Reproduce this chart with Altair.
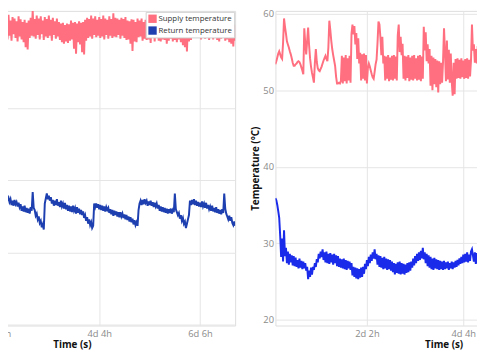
import altair as alt
import pandas as pd

SERIES = ["Supply temperature", "Return temperature"]
PINK = "#ff6f7f"
BLUE_L = "#1d3faf"
BLUE_R = "#1b2bea"

# ---- left panel: readings every half hour from 50 h ----
left_start, left_step = 50.0, 0.5
left_supply = [
    62.6, 59.7, 62.9, 60.2, 62.3, 59.5, 62.8, 60.0, 62.4, 59.6,
    63.0, 60.1, 62.2, 59.4, 62.7, 60.3, 62.5, 59.8, 62.1, 59.3,
    62.8, 60.0, 62.4, 59.6, 62.0, 59.2, 62.3, 58.5, 61.9, 58.2,
    62.2, 59.8, 62.6, 60.1, 63.6, 60.0, 62.4, 59.7, 62.9, 60.2,
    62.5, 59.6, 62.8, 60.3, 62.2, 59.5, 62.7, 60.0, 62.4, 59.8,
    62.9, 60.1, 62.3, 59.4, 62.6, 60.2, 62.1, 59.7, 62.5, 60.0,
    62.0, 59.5, 61.8, 59.2, 61.9, 59.0, 61.6, 59.3, 61.8, 59.1,
    61.7, 59.4, 62.2, 59.6, 61.9, 58.3, 62.0, 57.6, 61.8, 59.2,
    62.1, 58.9, 61.9, 57.8, 62.0, 57.5, 62.3, 59.4, 62.6, 59.8,
    62.4, 60.0, 62.9, 59.7, 62.5, 60.2, 62.8, 59.9, 62.3, 60.1,
    62.7, 59.8, 62.4, 60.0, 62.9, 59.6, 62.5, 60.2, 62.3, 59.7,
    62.8, 60.1, 62.4, 59.8, 63.2, 60.0, 62.6, 59.9, 62.5, 60.2,
    62.3, 59.7, 62.6, 60.1, 62.4, 59.8, 62.7, 59.5, 62.2, 59.6,
    62.1, 59.0, 62.4, 58.0, 62.3, 59.3, 62.0, 59.2, 62.5, 59.9,
    62.2, 60.0, 62.5, 59.4, 62.0, 59.7, 62.3, 59.5, 62.1, 59.6,
    62.4, 59.1, 61.9, 59.8, 62.2, 59.3, 62.5, 59.8, 62.0, 59.4,
    62.3, 59.3, 62.1, 59.6, 62.4, 59.5, 62.2, 59.0, 62.0, 59.4,
    62.4, 59.7, 62.1, 59.3, 62.0, 59.5, 62.3, 59.2, 62.2, 59.6,
    61.9, 59.2, 62.0, 58.8, 61.8, 58.5, 61.9, 57.9, 61.8, 59.3,
    62.3, 59.5, 62.5, 59.9, 62.2, 59.8, 62.7, 60.0, 62.4, 60.1,
    62.3, 59.6, 62.6, 60.0, 62.8, 59.7, 62.4, 60.0, 62.5, 59.5,
    62.6, 59.9, 62.2, 59.6, 62.6, 59.9, 62.3, 59.5, 62.2, 59.3,
    62.5, 59.7, 62.2, 59.8, 62.1, 59.4, 62.4, 59.6, 62.3, 59.2,
    62.0, 59.0, 61.8, 58.6, 61.6, 59.4,
]
left_return = [
    37.9, 37.3, 38.2, 37.5, 38.0, 37.2, 37.8, 37.4, 38.1, 37.3,
    37.6, 37.0, 37.4, 36.6, 37.2, 36.5, 37.3, 36.7, 37.0, 36.4,
    36.9, 36.3, 36.7, 35.8, 36.4, 35.7, 36.5, 35.6, 36.2, 35.5,
    36.1, 35.4, 36.3, 35.8, 38.4, 36.2, 35.9, 35.1, 35.4, 34.6,
    35.0, 34.1, 34.4, 33.5, 33.9, 33.2, 36.8, 37.5, 38.2, 37.4,
    37.9, 37.2, 37.7, 36.8, 37.3, 36.5, 37.2, 36.6, 37.4, 36.5,
    37.0, 36.3, 37.2, 36.4, 36.8, 36.1, 36.9, 36.0, 36.6, 35.8,
    36.5, 35.7, 36.4, 35.6, 36.5, 35.8, 36.2, 35.4, 36.3, 35.5,
    36.1, 35.3, 35.9, 35.2, 35.7, 34.8, 35.2, 34.4, 34.9, 34.0,
    34.6, 33.8, 34.2, 33.4, 33.7, 36.8, 36.3, 36.8, 36.2, 36.7,
    36.0, 36.6, 35.9, 36.5, 35.8, 36.4, 35.7, 36.3, 35.9, 36.2,
    35.5, 36.0, 35.3, 35.9, 35.1, 35.8, 35.2, 35.7, 35.0, 35.6,
    34.9, 35.6, 35.0, 35.4, 34.8, 35.3, 34.6, 35.2, 34.5, 35.0,
    34.3, 34.9, 34.2, 34.7, 33.9, 34.5, 33.8, 34.2, 33.7, 35.9,
    36.8, 37.2, 36.6, 37.3, 36.7, 37.4, 36.9, 37.2, 36.5, 37.1,
    36.6, 37.2, 36.5, 37.0, 36.3, 36.9, 36.4, 36.8, 36.1, 36.6,
    35.8, 36.4, 35.7, 36.3, 35.6, 36.2, 35.5, 36.1, 35.4, 36.0,
    35.5, 36.1, 35.4, 35.9, 35.6, 38.2, 36.0, 35.6, 35.2, 35.5,
    34.7, 35.2, 34.4, 34.8, 34.0, 34.3, 33.4, 34.0, 34.6, 35.2,
    37.2, 36.6, 37.3, 36.7, 37.4, 36.6, 37.2, 36.5, 37.0, 36.4,
    36.9, 36.3, 37.1, 36.4, 36.8, 36.2, 36.9, 36.1, 36.6, 36.0,
    36.4, 35.8, 36.5, 35.7, 36.2, 35.6, 36.3, 35.5, 36.0, 35.4,
    35.9, 35.3, 36.0, 35.5, 38.2, 36.1, 35.4, 35.0, 34.6, 35.1,
    34.4, 34.9, 34.1, 33.8, 34.3, 33.7,
]

# ---- right panel: readings every half hour from 2.5 h ----
right_start, right_step = 2.5, 0.5
right_supply = [
    53.4, 53.8, 54.3, 54.8, 55.1, 54.7, 54.3, 54.1, 56.2, 59.4,
    58.3, 57.4, 56.4, 56.0, 55.6, 55.1, 54.7, 54.2, 53.6, 53.2,
    53.2, 53.4, 53.5, 53.7, 53.8, 53.7, 53.4, 53.0, 52.6, 52.1,
    58.1, 56.2, 54.7, 56.5, 58.2, 55.9, 54.2, 53.1, 52.3, 51.7,
    51.0, 53.6, 55.4, 53.7, 52.9, 52.6, 52.5, 52.8, 53.1, 53.5,
    53.9, 54.2, 54.5, 54.1, 53.8, 55.6, 59.1, 57.9, 56.5, 55.4,
    54.6, 53.9, 53.2, 51.8, 50.9, 50.9, 51.0, 50.9, 51.2, 54.5,
    50.9, 54.3, 51.2, 54.6, 50.9, 54.2, 51.3, 54.5, 51.0, 57.4,
    58.6, 57.3, 58.4, 56.0, 57.5, 54.1, 56.8, 53.5, 54.9, 51.3,
    54.7, 51.5, 54.8, 51.3, 54.6, 50.9, 52.9, 53.5, 53.1, 52.6,
    52.1, 51.7, 51.5, 52.4, 53.4, 54.0, 56.2, 59.0, 58.6, 56.9,
    54.6, 57.0, 53.5, 54.5, 51.3, 54.4, 51.5, 54.6, 51.2, 54.3,
    51.4, 54.5, 51.3, 54.6, 51.5, 54.4, 51.3, 57.2, 58.6, 55.0,
    57.0, 54.6, 56.1, 51.5, 54.5, 51.3, 54.4, 51.6, 54.6, 51.2,
    54.3, 51.4, 54.5, 51.3, 54.6, 51.5, 54.2, 51.3, 54.5, 51.4,
    54.6, 51.2, 54.4, 51.5, 58.3, 55.2, 57.6, 53.8, 56.0, 53.5,
    55.4, 50.6, 54.5, 50.0, 54.3, 50.8, 54.1, 50.4, 53.9, 49.7,
    53.8, 50.8, 53.6, 51.0, 53.8, 58.1, 55.0, 51.2, 56.5, 51.4,
    55.3, 51.0, 54.8, 51.2, 49.3, 53.6, 49.5, 54.1, 51.5, 54.2,
    51.6, 54.0, 51.5, 54.2, 51.7, 53.9, 51.5, 54.1, 51.6, 54.2,
    51.5, 54.0, 51.8, 53.9, 58.6, 55.2, 56.0, 53.6, 55.4, 53.5,
    55.8, 53.5, 54.6, 53.8, 54.3, 51.8,
]
right_return = [
    35.9, 35.6, 35.0, 34.2, 33.3, 31.0, 28.2, 30.6, 27.6, 31.7,
    28.3, 29.4, 27.4, 28.9, 27.2, 28.6, 27.5, 28.4, 27.1, 28.3,
    27.0, 28.1, 26.9, 27.8, 26.7, 28.0, 26.8, 27.7, 26.6, 27.6,
    26.7, 27.4, 26.4, 26.9, 25.3, 26.4, 25.6, 26.8, 25.9, 26.9,
    26.5, 27.4, 26.9, 27.9, 27.5, 28.6, 28.0, 28.9, 28.2, 29.2,
    27.8, 28.8, 27.5, 28.9, 27.4, 28.6, 27.3, 28.7, 27.5, 28.5,
    27.2, 28.6, 27.4, 28.4, 27.0, 28.3, 26.9, 28.0, 26.8, 27.9,
    26.7, 28.0, 26.6, 27.8, 26.5, 27.7, 26.7, 27.6, 26.5, 27.4,
    25.8, 26.9, 25.6, 26.8, 25.4, 26.7, 25.3, 26.6, 25.5, 26.8,
    25.6, 26.9, 26.0, 27.3, 26.6, 27.8, 27.0, 28.2, 27.4, 28.5,
    27.7, 28.8, 28.0, 29.2, 27.9, 28.6, 27.2, 28.4, 26.9, 28.3,
    26.8, 28.1, 26.6, 28.2, 26.7, 28.0, 26.5, 27.9, 26.6, 27.8,
    26.4, 27.6, 26.2, 27.4, 25.9, 27.3, 26.1, 27.5, 26.0, 27.6,
    25.9, 27.4, 26.0, 27.3, 25.9, 27.2, 26.1, 27.4, 26.2, 27.5,
    26.4, 27.6, 26.8, 28.0, 27.1, 28.3, 27.4, 28.6, 27.7, 28.8,
    27.8, 29.0, 28.0, 29.4, 27.9, 28.8, 27.4, 28.6, 27.0, 28.4,
    26.8, 28.2, 26.6, 28.0, 26.5, 28.1, 26.7, 27.9, 26.6, 27.8,
    26.5, 27.7, 26.6, 27.6, 26.5, 27.7, 26.6, 27.5, 26.7, 27.6,
    26.5, 27.4, 26.7, 27.6, 26.6, 27.5, 26.8, 27.7, 26.9, 27.8,
    27.1, 28.0, 27.3, 28.2, 27.4, 28.5, 27.5, 28.6, 27.6, 28.8,
    27.5, 28.5, 27.7, 28.9, 29.2, 28.4, 27.6, 28.8, 27.3, 28.7,
    27.4, 28.6, 27.5, 28.8, 27.6, 28.4,
]

x_tick_values = [180000, 360000, 540000]
y_tick_values = [20, 30, 40, 50, 60]
FONT = "Open Sans"
PLOT_H = 320


def series_df(start, step, values):
    return pd.DataFrame({
        "t": [(start + step * i) * 3600 for i in range(len(values))],
        "temp": values,
    })


def panel(start, step, sup, ret, ret_color, xdom, ydom, width, show_y, legend):
    xaxis = alt.Axis(
        values=x_tick_values,
        labelExpr="floor(datum.value / 86400) + 'd ' + floor((datum.value % 86400) / 3600) + 'h'",
        title="Time (s)", grid=True, ticks=False, domain=False,
        labelFontSize=9.5, labelColor="#8a8a8a", labelFont=FONT, labelPadding=3,
        titleFontSize=10, titleFontWeight="bold", titleColor="#111", titleFont=FONT,
        titlePadding=2, gridColor="#e4e4e4",
    )
    if show_y:
        yaxis = alt.Axis(
            values=y_tick_values, title="Temperature (°C)", grid=True, ticks=False,
            domain=False, labelFontSize=9.5, labelColor="#8a8a8a", labelFont=FONT,
            labelPadding=2, titleFontSize=10, titleFontWeight="bold", titleColor="#111",
            titleFont=FONT, titlePadding=2, gridColor="#e4e4e4",
        )
    else:
        yaxis = alt.Axis(values=y_tick_values, title=None, labels=False, ticks=False,
                         domain=False, grid=True, gridColor="#e4e4e4")
    xenc = alt.X("t:Q", scale=alt.Scale(domain=xdom, nice=False, zero=False), axis=xaxis)
    yenc = alt.Y("temp:Q", scale=alt.Scale(domain=ydom, nice=False, zero=False), axis=yaxis)
    sup_line = alt.Chart(series_df(start, step, sup)).mark_line(
        clip=True, color=PINK, strokeWidth=2.0).encode(x=xenc, y=yenc)
    ret_line = alt.Chart(series_df(start, step, ret)).mark_line(
        clip=True, color=ret_color, strokeWidth=2.0).encode(x=xenc, y=yenc)
    layers = [sup_line, ret_line]
    if legend is not None:
        # legend keys: two rows placed before the x domain, so clipped away
        keys_df = pd.DataFrame({"t": [xdom[0] - 7200] * 2, "temp": [40, 40], "series": SERIES})
        keys = alt.Chart(keys_df).mark_square(clip=True, opacity=1, size=10).encode(
            x=xenc, y=yenc,
            fill=alt.Fill("series:N", scale=alt.Scale(domain=SERIES, range=[PINK, BLUE_L]),
                          legend=legend),
        )
        layers.append(keys)
    return alt.layer(*layers).properties(width=width, height=PLOT_H)


legend = alt.Legend(
    title=None, orient="top-right", offset=1, symbolType="square", symbolSize=72,
    labelFontSize=8, labelColor="#333", labelFont=FONT,
    fillColor="white", strokeColor="#d0d0d0", padding=2, rowPadding=2,
    labelOffset=1, symbolOffset=0, cornerRadius=0,
)

left = panel(left_start, left_step, left_supply, left_return, BLUE_L,
             [19800, 602640], [19.86, 63.55], 332, False, legend)
right = panel(right_start, right_step, right_supply, right_return, BLUE_R,
              [9144, 637200], [19.23, 60.386], 342, True, None)

chart = alt.hconcat(left, right, spacing=14).resolve_scale(
    x="independent", y="independent", fill="independent"
).properties(
    padding={"left": -102, "top": -3, "right": -138, "bottom": 0}
).configure_view(stroke="#9a9a9a", strokeWidth=1).configure(background="white")

chart.save("out.html", embed_options={"renderer": "svg", "actions": False})
